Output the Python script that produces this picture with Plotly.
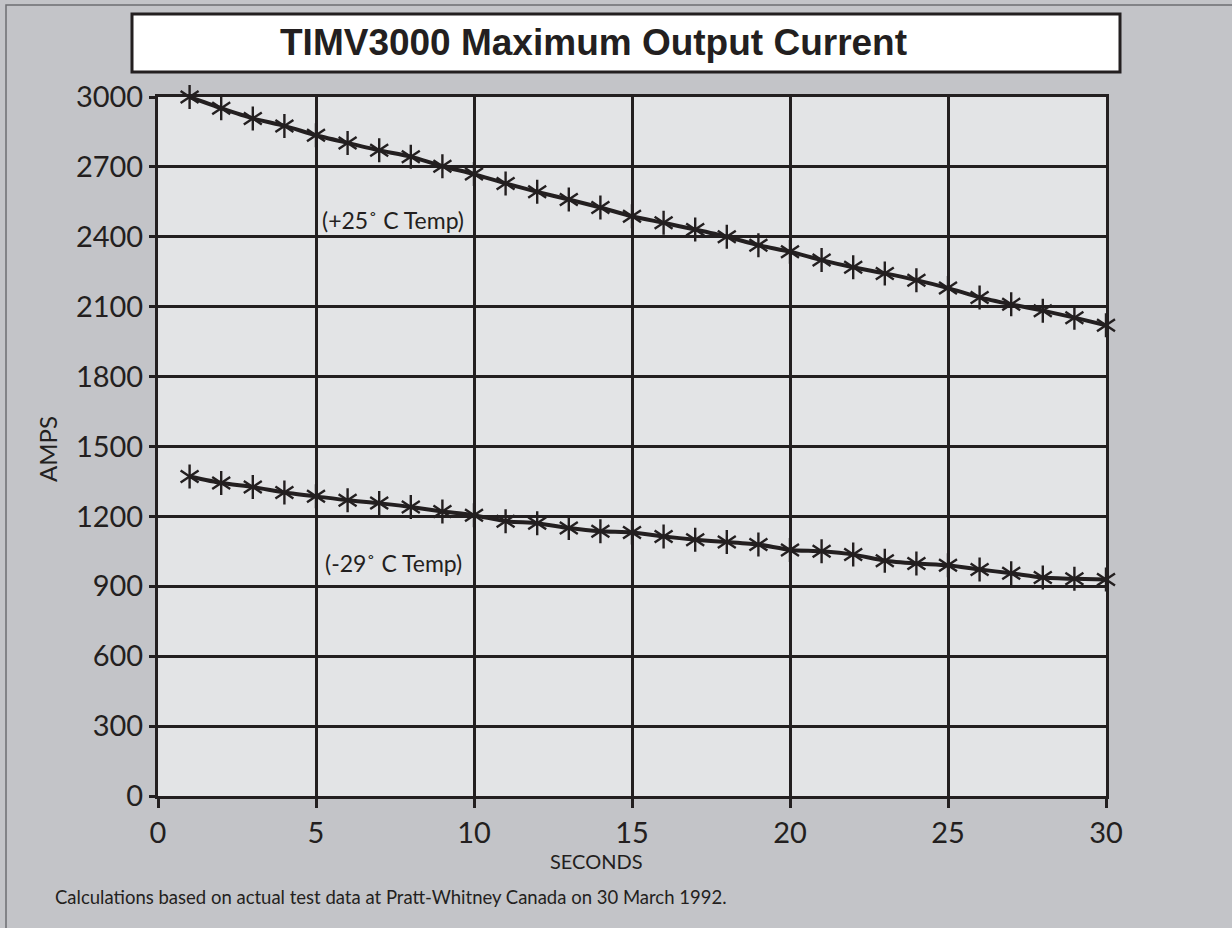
import plotly.graph_objects as go

# ---- data ----
seconds = [1, 2, 3, 4, 5, 6, 7, 8, 9, 10, 11, 12, 13, 14, 15,
           16, 17, 18, 19, 20, 21, 22, 23, 24, 25, 26, 27, 28, 29, 30]
amps_plus25 = [3000, 2952, 2908, 2876, 2836, 2803, 2771, 2744, 2703, 2669,
               2629, 2593, 2560, 2526, 2488, 2460, 2431, 2400, 2364, 2336,
               2300, 2269, 2243, 2214, 2180, 2140, 2110, 2083, 2053, 2020]
amps_minus29 = [1371, 1343, 1326, 1303, 1286, 1269, 1257, 1240, 1221, 1205,
                1179, 1171, 1150, 1136, 1131, 1114, 1100, 1090, 1079, 1056,
                1050, 1036, 1010, 998, 990, 972, 956, 938, 932, 929]
x_ticks = [0, 5, 10, 15, 20, 25, 30]
y_ticks = [0, 300, 600, 900, 1200, 1500, 1800, 2100, 2400, 2700, 3000]
title_text = "TIMV3000 Maximum Output Current"
label_plus25 = "(+25˚ C Temp)"
label_minus29 = "(-29˚ C Temp)"
x_title = "SECONDS"
y_title = "AMPS"
footnote = "Calculations based on actual test data at Pratt-Whitney Canada on 30 March 1992."

INK = "#231f20"
FONT = "Lato"
W, H = 1232, 928
L, R, T, B = 158, 1106, 97, 796


def px(xp):
    return (xp - L) / (R - L)


def py(yp):
    return (B - yp) / (B - T)


fig = go.Figure()
for ys in (amps_plus25, amps_minus29):
    fig.add_trace(go.Scatter(
        x=seconds, y=ys, mode="lines",
        line=dict(color=INK, width=4, shape="spline", smoothing=0.6),
        hoverinfo="skip", showlegend=False))
    for sym in ("y-up", "y-down"):
        fig.add_trace(go.Scatter(
            x=seconds, y=ys, mode="markers", cliponaxis=False,
            marker=dict(symbol=sym, size=15, color=INK,
                        line=dict(color=INK, width=2.4)),
            showlegend=False))

axis_common = dict(
    showline=True, linecolor=INK, linewidth=3, mirror=True,
    showgrid=True, gridcolor=INK, gridwidth=3, zeroline=False,
    ticks="outside", tickcolor=INK, tickwidth=3,
    tickfont=dict(family=FONT, size=29, color=INK),
)
fig.update_xaxes(range=[0, 30], tickvals=x_ticks, ticklen=9, **axis_common)
fig.update_yaxes(range=[0, 3000], tickvals=y_ticks, ticklen=6, **axis_common)

shapes = [
    # outer border
    dict(type="rect", xref="paper", yref="paper",
         x0=px(6), x1=px(1300), y0=py(1000), y1=py(5),
         line=dict(color="#6d6e71", width=1.5), fillcolor="rgba(0,0,0,0)",
         layer="below"),
    # title box
    dict(type="rect", xref="paper", yref="paper",
         x0=px(132), x1=px(1120), y0=py(72), y1=py(14),
         line=dict(color=INK, width=3), fillcolor="white"),
]

annotations = [
    dict(text="<b>" + title_text + "</b>", x=px(593), y=py(43),
         font=dict(family="Liberation Sans", size=37, color=INK)),
    dict(text=label_plus25, x=px(320), y=py(220), xanchor="left",
         font=dict(family=FONT, size=23, color=INK)),
    dict(text=label_minus29, x=px(323), y=py(563), xanchor="left",
         font=dict(family=FONT, size=23, color=INK)),
    dict(text=x_title, x=px(596), y=py(861),
         font=dict(family=FONT, size=20, color=INK)),
    dict(text=y_title, x=px(47), y=py(449), textangle=-90,
         font=dict(family=FONT, size=24, color=INK)),
    dict(text=footnote, x=px(53), y=py(897), xanchor="left",
         font=dict(family=FONT, size=18.5, color=INK)),
]
for a in annotations:
    a.setdefault("xanchor", "center")
    a.update(xref="paper", yref="paper", yanchor="middle", showarrow=False)

fig.update_layout(
    width=W, height=H,
    margin=dict(l=L, r=W - R, t=T, b=H - B, pad=0),
    paper_bgcolor="#c3c4c8", plot_bgcolor="#e3e4e6",
    shapes=shapes, annotations=annotations, showlegend=False,
)

fig.write_html("out.html",
               config={"displayModeBar": False},
               post_script="document.body.style.margin='0';"
                           "document.body.style.overflow='hidden';")
